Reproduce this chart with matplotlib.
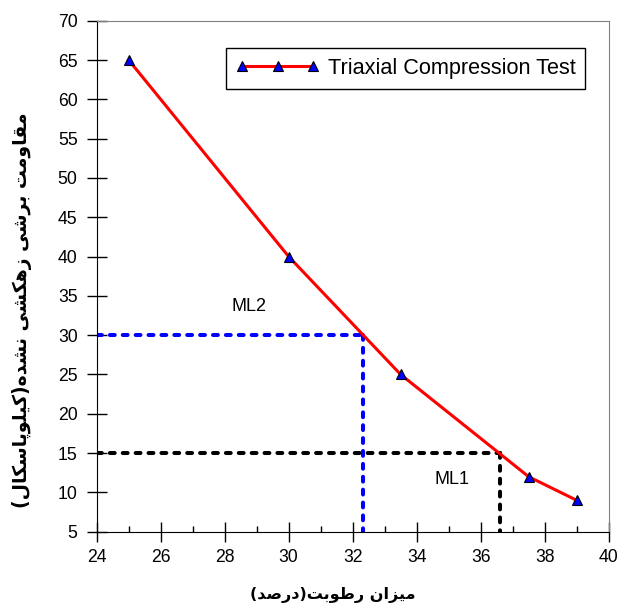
import matplotlib
matplotlib.use("Agg")
import matplotlib.pyplot as plt
from matplotlib.ticker import MultipleLocator

# measured points of the triaxial test curve
moisture = [25, 30, 33.5, 37.5, 39]
strength = [65, 40, 25, 12, 9]

# guide lines (ML2 at 30 kPa, ML1 at 15 kPa)
ml2_x, ml2_y = 32.32, 30
ml1_x, ml1_y = 36.6, 15

XLABEL = "میزان رطوبت(درصد)"
YLABEL = "مقاومت برشی زهکشی نشده(کیلوپاسکال)"
LEGEND_LABEL = "Triaxial Compression Test"

# Arabic presentation forms: isolated, final, initial, medial
FORMS = {
    "ا": ("\uFE8D", "\uFE8E", None, None),
    "ب": ("\uFE8F", "\uFE90", "\uFE91", "\uFE92"),
    "پ": ("\uFB56", "\uFB57", "\uFB58", "\uFB59"),
    "ت": ("\uFE95", "\uFE96", "\uFE97", "\uFE98"),
    "د": ("\uFEA9", "\uFEAA", None, None),
    "ر": ("\uFEAD", "\uFEAE", None, None),
    "ز": ("\uFEAF", "\uFEB0", None, None),
    "س": ("\uFEB1", "\uFEB2", "\uFEB3", "\uFEB4"),
    "ش": ("\uFEB5", "\uFEB6", "\uFEB7", "\uFEB8"),
    "ص": ("\uFEB9", "\uFEBA", "\uFEBB", "\uFEBC"),
    "ط": ("\uFEC1", "\uFEC2", "\uFEC3", "\uFEC4"),
    "ق": ("\uFED5", "\uFED6", "\uFED7", "\uFED8"),
    "ک": ("\uFB8E", "\uFB8F", "\uFB90", "\uFB91"),
    "ل": ("\uFEDD", "\uFEDE", "\uFEDF", "\uFEE0"),
    "م": ("\uFEE1", "\uFEE2", "\uFEE3", "\uFEE4"),
    "ن": ("\uFEE5", "\uFEE6", "\uFEE7", "\uFEE8"),
    "ه": ("\uFEE9", "\uFEEA", "\uFEEB", "\uFEEC"),
    "و": ("\uFEED", "\uFEEE", None, None),
    "ی": ("\uFBFC", "\uFBFD", "\uFBFE", "\uFBFF"),
}


def shape(text):
    # minimal persian shaping + bidi reversal (matplotlib has no text shaping)
    out = []
    i = 0
    n = len(text)
    while i < n:
        c = text[i]
        if c not in FORMS:
            out.append(c)
            i += 1
            continue
        prev = text[i - 1] if i > 0 else None
        join_prev = prev in FORMS and FORMS[prev][2] is not None
        if c == "ل" and i + 1 < n and text[i + 1] == "ا":
            out.append("\uFEFC" if join_prev else "\uFEFB")
            i += 2
            continue
        nxt = text[i + 1] if i + 1 < n else None
        join_next = FORMS[c][2] is not None and nxt in FORMS
        iso, fin, ini, med = FORMS[c]
        if join_prev and join_next:
            out.append(med)
        elif join_prev:
            out.append(fin)
        elif join_next:
            out.append(ini)
        else:
            out.append(iso)
        i += 1
    mirror = {"(": ")", ")": "("}
    return "".join(mirror.get(ch, ch) for ch in reversed(out))


plt.rcParams["font.family"] = ["Liberation Sans", "DejaVu Sans"]

fig = plt.figure(figsize=(6.19, 6.06), dpi=100)
ax = fig.add_axes([0.1562, 0.1226, 0.827, 0.8432])

ax.plot(moisture, strength, color="red", lw=2.2, marker="^", ms=7,
        mfc="blue", mec="black", mew=0.8, label=LEGEND_LABEL, zorder=5)

dash = dict(lw=2.9, dashes=(1.2, 2.0), dash_capstyle="round")
ax.plot([24, ml2_x], [ml2_y, ml2_y], color="blue", **dash)
ax.plot([ml2_x, ml2_x], [ml2_y, 5], color="blue", **dash)
ax.plot([24, ml1_x], [ml1_y, ml1_y], color="black", **dash)
ax.plot([ml1_x, ml1_x], [ml1_y, 5], color="black", **dash)

ax.text(28.76, 33.6, "ML2", fontsize=13, ha="center", va="center")
ax.text(35.1, 11.6, "ML1", fontsize=13, ha="center", va="center")

ax.set_xlim(24, 40)
ax.set_ylim(5, 70)
ax.xaxis.set_major_locator(MultipleLocator(2))
ax.xaxis.set_minor_locator(MultipleLocator(1))
ax.yaxis.set_major_locator(MultipleLocator(5))
ax.tick_params(which="major", direction="inout", length=14.4, width=1, labelsize=12.7)
ax.tick_params(axis="x", which="major", pad=5.4)
ax.tick_params(axis="y", which="major", pad=6.5)
ax.tick_params(axis="x", which="minor", direction="in", length=4.3, width=1)
for side in ("top", "right"):
    ax.spines[side].set_color("#808080")
    ax.spines[side].set_linewidth(0.8)

ax.set_xlabel(shape(XLABEL), family="DejaVu Sans", fontweight="bold", fontsize=11.5)
ax.xaxis.set_label_coords(0.4615, -0.108)
ax.set_ylabel(shape(YLABEL), family="DejaVu Sans", fontweight="bold", fontsize=13.5, va="center")
ax.yaxis.set_label_coords(-0.146, 0.433)

leg = ax.legend(loc="upper right", bbox_to_anchor=(0.954, 0.9466), borderaxespad=0,
                numpoints=3, handlelength=3.9, fontsize=15.6, fancybox=False,
                edgecolor="black", framealpha=1, borderpad=0.45, handletextpad=0.35)
leg.get_frame().set_linewidth(1)

fig.savefig("out.png", dpi=100)
